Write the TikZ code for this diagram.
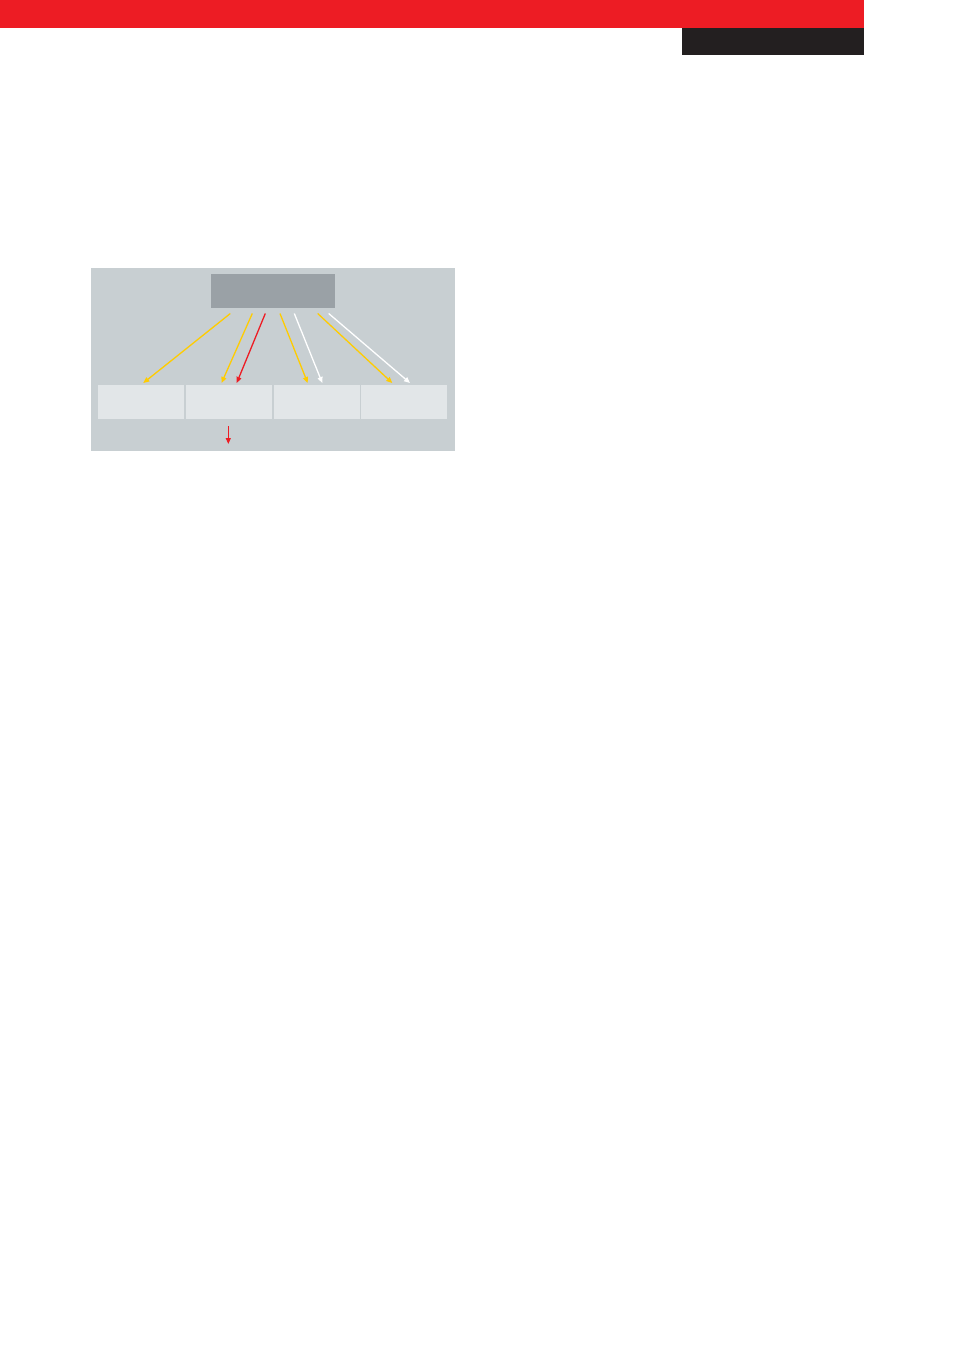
\documentclass[tikz,border=0pt]{standalone}
\usetikzlibrary{arrows.meta}
\definecolor{brandred}{HTML}{ED1C24}
\definecolor{brandblack}{HTML}{231F20}
\definecolor{panelgray}{HTML}{C8CFD2}
\definecolor{topgray}{HTML}{9AA1A6}
\definecolor{cellgray}{HTML}{E2E6E8}
\definecolor{arrowyellow}{HTML}{FFCC00}
\tikzset{
  box/.style={draw=none, inner sep=0pt, outer sep=0pt, anchor=north west},
  cell/.style={box, fill=cellgray, minimum width=86pt, minimum height=34pt},
  conn/.style={line width=1.3pt, -{Triangle[length=6pt,width=5pt]}, shorten >=0pt},
  yarrow/.style={conn, draw=arrowyellow},
  rarrow/.style={conn, draw=brandred},
  warrow/.style={conn, draw=white},
}
\begin{document}
\begin{tikzpicture}[x=1pt,y=-1pt]
\useasboundingbox (0,0) rectangle (954,1350);
\fill[white] (0,0) rectangle (954,1350);
% header bars
\node[box, fill=brandred, minimum width=864pt, minimum height=28pt] (redbar) at (0,0) {};
\node[box, fill=brandblack, minimum width=182pt, minimum height=27pt] (blackbar) at (682,28) {};
% panel
\node[box, fill=panelgray, minimum width=364pt, minimum height=183pt] (panel) at (91,268) {};
\node[box, fill=topgray, minimum width=124pt, minimum height=34pt] (top) at (211,274) {};
\node[cell] (c1) at (98,385) {};
\node[cell] (c2) at (186,385) {};
\node[cell] (c3) at (274,385) {};
\node[cell, minimum width=86pt] (c4) at (361,385) {};
% arrow endpoints
\coordinate (s1) at (230.3,313.5);
\coordinate (e1) at (143.3,383);
\coordinate (s2) at (252.3,313.5);
\coordinate (e2) at (221.5,383);
\coordinate (s3) at (265.3,313.5);
\coordinate (e3) at (236.7,383);
\coordinate (s4) at (280,313.5);
\coordinate (e4) at (307.7,383);
\coordinate (s5) at (294.3,313.5);
\coordinate (e5) at (322.3,383);
\coordinate (s6) at (317.7,313.5);
\coordinate (e6) at (392.3,383);
\coordinate (s7) at (328.7,313.5);
\coordinate (e7) at (410,383);
\coordinate (s8) at (228.3,426);
\coordinate (e8) at (228.3,444);
\draw[yarrow] (s1) -- (e1);
\draw[yarrow] (s2) -- (e2);
\draw[rarrow] (s3) -- (e3);
\draw[yarrow] (s4) -- (e4);
\draw[warrow] (s5) -- (e5);
\draw[yarrow] (s6) -- (e6);
\draw[warrow] (s7) -- (e7);
\draw[rarrow, line width=1.1pt] (s8) -- (e8);
\end{tikzpicture}
\end{document}
